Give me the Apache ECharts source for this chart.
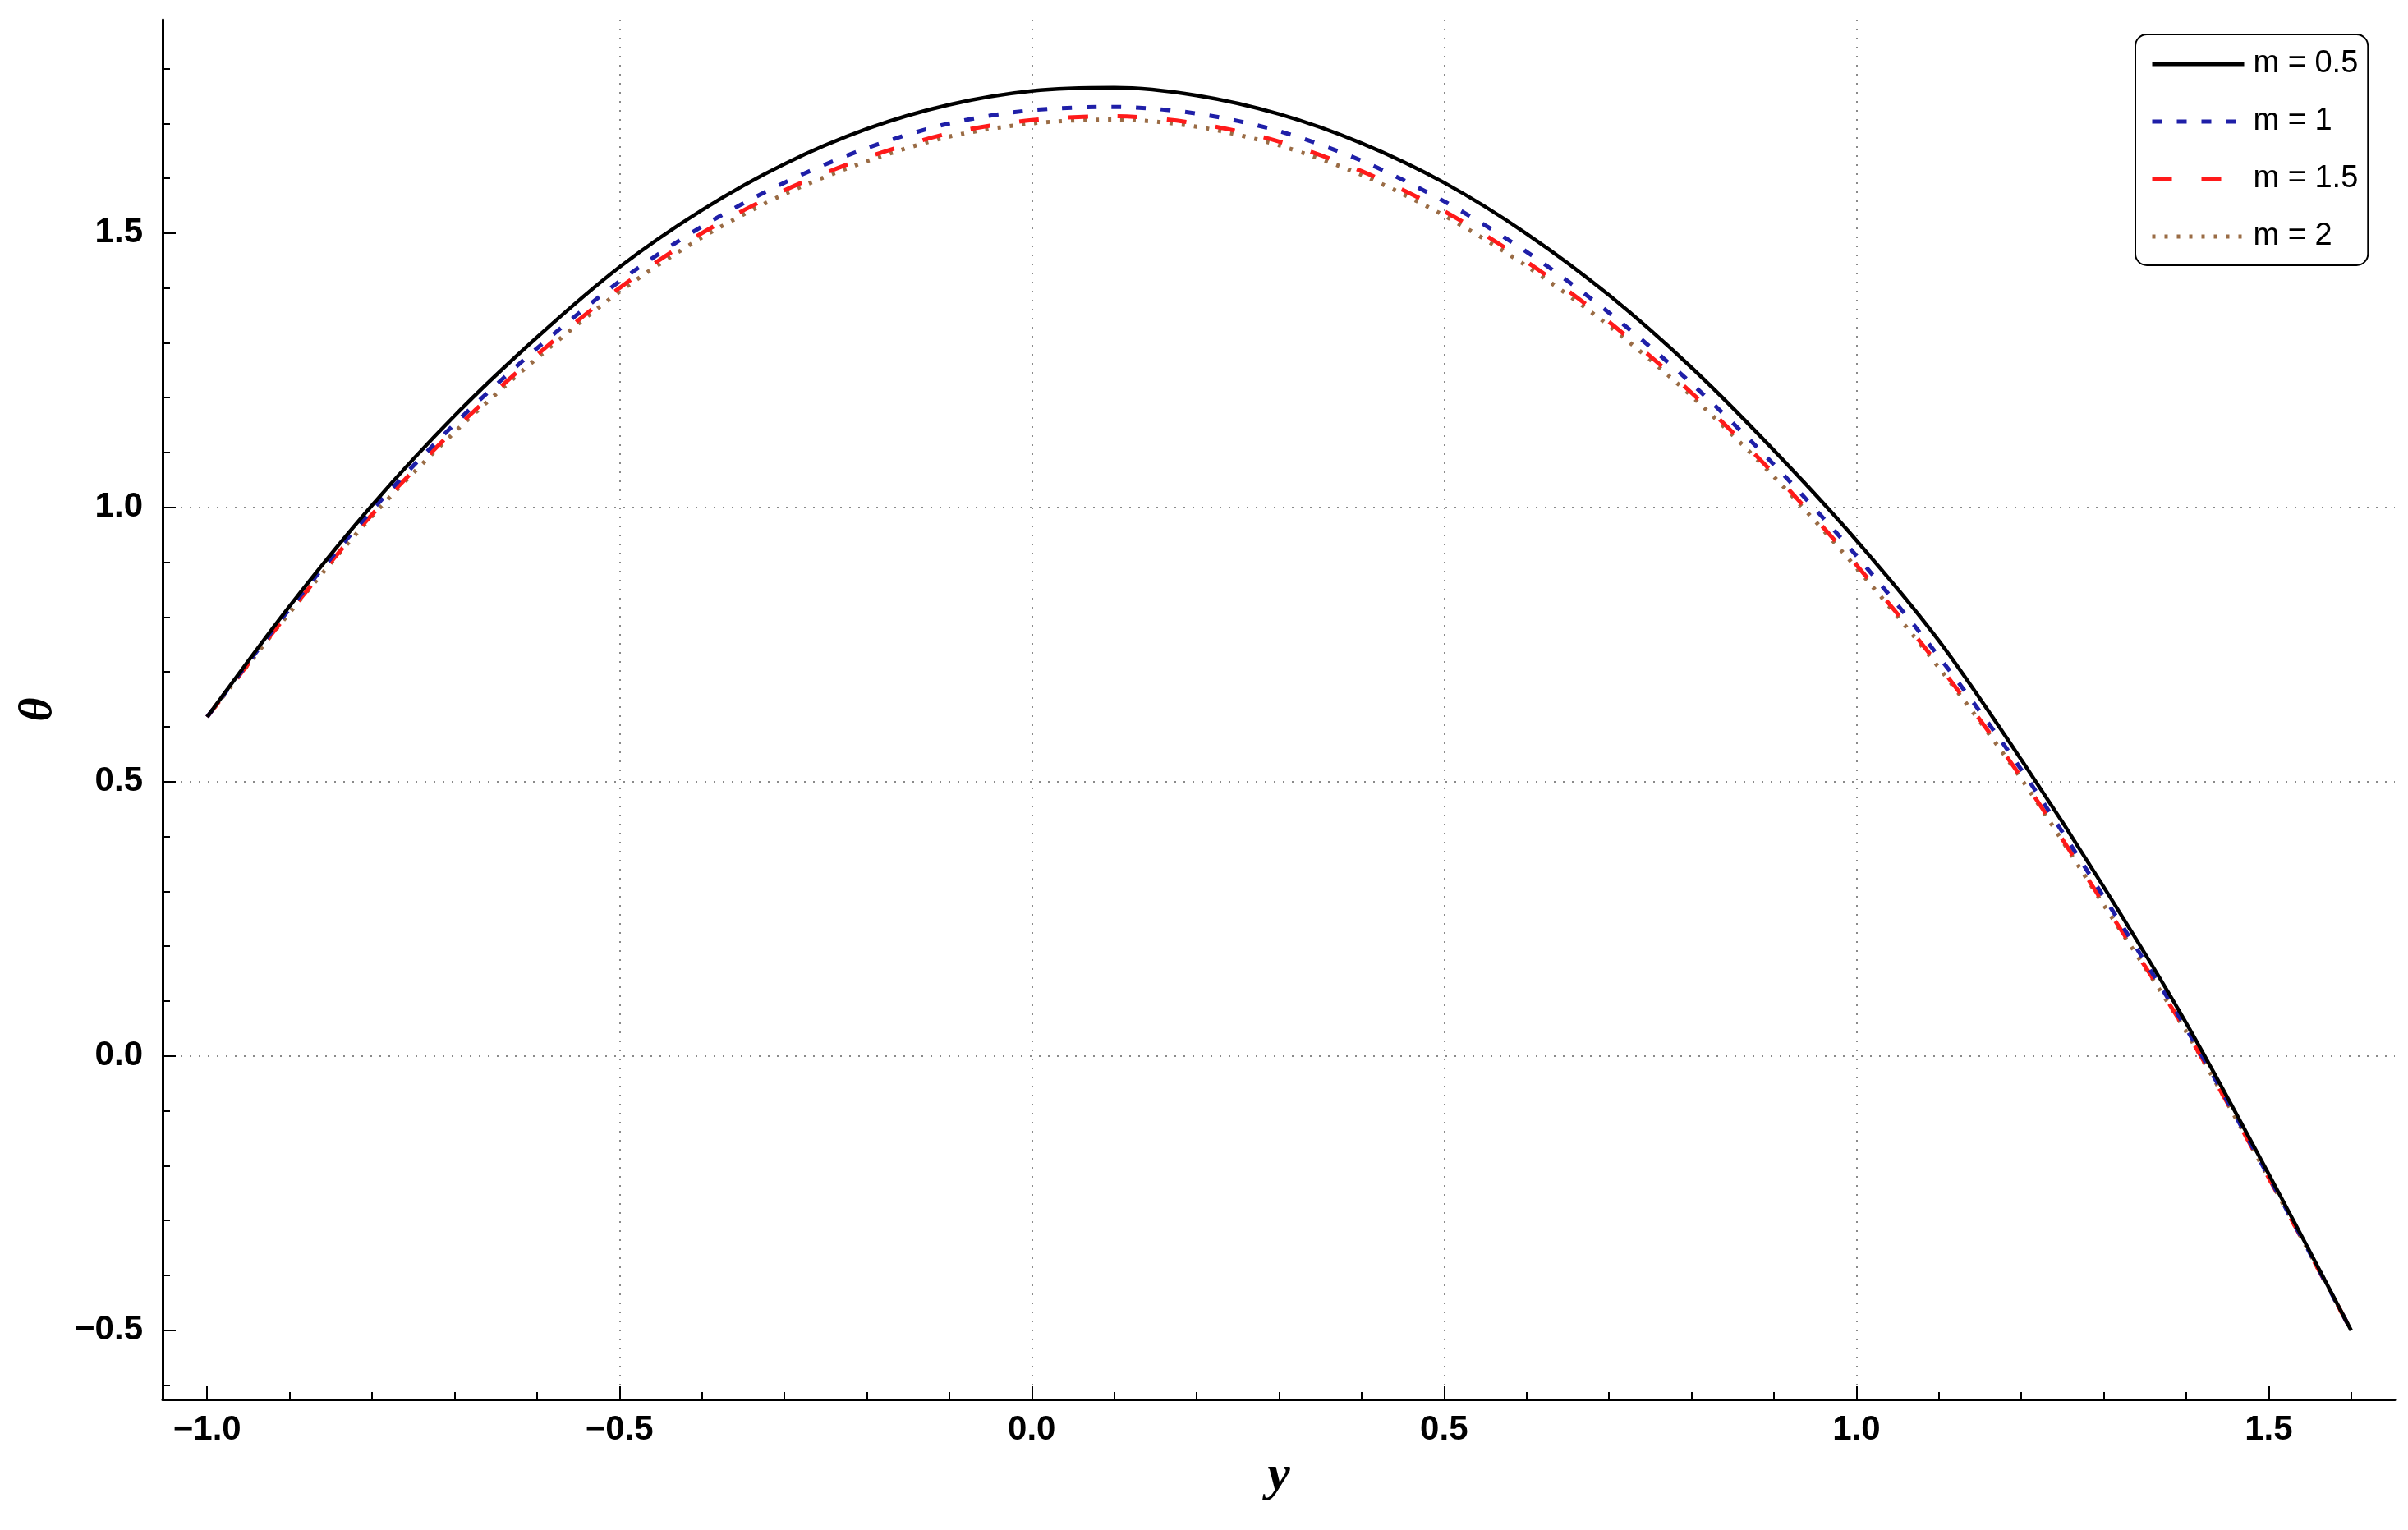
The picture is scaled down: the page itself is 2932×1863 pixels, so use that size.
<!DOCTYPE html>
<html>
<head>
<meta charset="utf-8">
<script src="https://cdn.jsdelivr.net/npm/echarts@6/dist/echarts.min.js"></script>
<style>html,body{margin:0;padding:0;background:#fff;}#c{width:2932px;height:1863px;}</style>
</head>
<body>
<div id="c"></div>
<script>
// ---- data ----
var yPos = [-1.0,-0.9,-0.8,-0.7,-0.6,-0.5,-0.4,-0.3,-0.2,-0.1,0.0,0.1,0.2,0.3,0.4,0.5,0.6,0.7,0.8,0.9,1.0,1.1,1.2,1.3,1.4,1.5,1.6];
var theta_m05 = [0.618,0.820,1.004,1.167,1.310,1.438,1.542,1.626,1.690,1.734,1.759,1.765,1.751,1.717,1.664,1.592,1.499,1.387,1.255,1.104,0.940,0.757,0.540,0.308,0.060,-0.215,-0.500];
var theta_m1  = [0.618,0.815,0.995,1.152,1.290,1.412,1.512,1.592,1.655,1.700,1.724,1.730,1.718,1.686,1.632,1.558,1.466,1.355,1.226,1.078,0.912,0.728,0.522,0.290,0.050,-0.220,-0.500];
var theta_m15 = [0.618,0.810,0.987,1.142,1.278,1.400,1.500,1.578,1.638,1.682,1.706,1.713,1.700,1.667,1.613,1.540,1.448,1.338,1.209,1.061,0.895,0.712,0.508,0.278,0.045,-0.222,-0.500];
var theta_m2  = [0.618,0.808,0.984,1.137,1.272,1.393,1.492,1.571,1.631,1.676,1.700,1.707,1.694,1.660,1.606,1.532,1.440,1.331,1.203,1.056,0.890,0.708,0.505,0.275,0.044,-0.222,-0.500];
var seriesNames = ['m = 0.5','m = 1','m = 1.5','m = 2'];
var xMajorTicks = [-1.0,-0.5,0.0,0.5,1.0,1.5];
var xMinorTicks = [-1.0,-0.9,-0.8,-0.7,-0.6,-0.5,-0.4,-0.3,-0.2,-0.1,0.0,0.1,0.2,0.3,0.4,0.5,0.6,0.7,0.8,0.9,1.0,1.1,1.2,1.3,1.4,1.5,1.6];
var yMajorTicks = [-0.5,0.0,0.5,1.0,1.5];
var yMinorTicks = [-0.6,-0.5,-0.4,-0.3,-0.2,-0.1,0.0,0.1,0.2,0.3,0.4,0.5,0.6,0.7,0.8,0.9,1.0,1.1,1.2,1.3,1.4,1.5,1.6,1.7,1.8];

function pairs(ys){ return yPos.map(function(x,i){ return [x, ys[i]]; }); }
function fmt(v){ return (Math.round(v*10)/10).toFixed(1).replace('-', '\u2212'); }

var X_MIN = -1.054, X_MAX = 1.653, Y_MIN = -0.626, Y_MAX = 1.889;
var gridLine = { show:true, showMinLine:false, showMaxLine:false, lineStyle:{ color:'#8a8a8a', width:2, type:[2,9] } };
var labelFont = { fontFamily:'Liberation Sans', fontWeight:'bold', fontSize:42, color:'#000' };

var chart = echarts.init(document.getElementById('c'), null, {renderer:'canvas'});
chart.setOption({
  animation:false,
  backgroundColor:'#fff',
  grid:{ left:198, right:16, top:24, bottom:159, containLabel:false },
  xAxis:[{
    type:'value', min:X_MIN, max:X_MAX,
    name:'y', nameLocation:'middle', nameGap:62,
    nameTextStyle:{ fontFamily:'Liberation Serif', fontStyle:'italic', fontWeight:'bold', fontSize:62, color:'#000' },
    axisLine:{ show:true, onZero:false, lineStyle:{ color:'#000', width:3 } },
    axisTick:{ show:true, inside:true, length:16, lineStyle:{ color:'#000', width:2 }, customValues:xMajorTicks },
    axisLabel:Object.assign({ margin:16, customValues:xMajorTicks, formatter:fmt }, labelFont),
    splitLine:gridLine
  },{
    type:'value', min:X_MIN, max:X_MAX, position:'bottom',
    axisLine:{ show:false, onZero:false },
    axisTick:{ show:true, inside:true, length:9, lineStyle:{ color:'#000', width:2 }, customValues:xMinorTicks },
    axisLabel:{ show:false },
    splitLine:{ show:false }
  }],
  yAxis:[{
    type:'value', min:Y_MIN, max:Y_MAX,
    name:'θ', nameLocation:'middle', nameGap:122, nameRotate:90,
    nameTextStyle:{ fontFamily:'Liberation Serif', fontStyle:'italic', fontWeight:'bold', fontSize:56, color:'#000' },
    axisLine:{ show:true, onZero:false, lineStyle:{ color:'#000', width:3 } },
    axisTick:{ show:true, inside:true, length:16, lineStyle:{ color:'#000', width:2 }, customValues:yMajorTicks },
    axisLabel:Object.assign({ margin:24, customValues:yMajorTicks, formatter:fmt }, labelFont),
    splitLine:gridLine
  },{
    type:'value', min:Y_MIN, max:Y_MAX, position:'left',
    axisLine:{ show:false, onZero:false },
    axisTick:{ show:true, inside:true, length:9, lineStyle:{ color:'#000', width:2 }, customValues:yMinorTicks },
    axisLabel:{ show:false },
    splitLine:{ show:false }
  }],
  legend:{
    orient:'vertical', left:2600, top:42,
    itemWidth:112, itemHeight:20, itemGap:32,
    padding:[17,12,16,18],
    backgroundColor:'#fff', borderColor:'#000', borderWidth:2, borderRadius:14,
    itemStyle:{ opacity:0 },
    lineStyle:{ width:5 },
    textStyle:{ fontFamily:'Liberation Sans', fontSize:38, color:'#000', padding:[0,0,0,6] },
    data:seriesNames
  },
  series:[
    { name:seriesNames[0], type:'line', data:pairs(theta_m05), smooth:0.3, symbol:'none', z:5,
      lineStyle:{ color:'#000000', width:4.5, type:'solid' }, itemStyle:{ color:'#000000' } },
    { name:seriesNames[1], type:'line', data:pairs(theta_m1), smooth:0.3, symbol:'none', z:4,
      lineStyle:{ color:'#1f1fa8', width:5, type:[12,18] }, itemStyle:{ color:'#1f1fa8' } },
    { name:seriesNames[2], type:'line', data:pairs(theta_m15), smooth:0.3, symbol:'none', z:3,
      lineStyle:{ color:'#ff1a1a', width:5, type:[24,36] }, itemStyle:{ color:'#ff1a1a' } },
    { name:seriesNames[3], type:'line', data:pairs(theta_m2), smooth:0.3, symbol:'none', z:2,
      lineStyle:{ color:'#9a6c45', width:5, type:[4,11] }, itemStyle:{ color:'#9a6c45' } }
  ]
});
</script>
</body>
</html>
